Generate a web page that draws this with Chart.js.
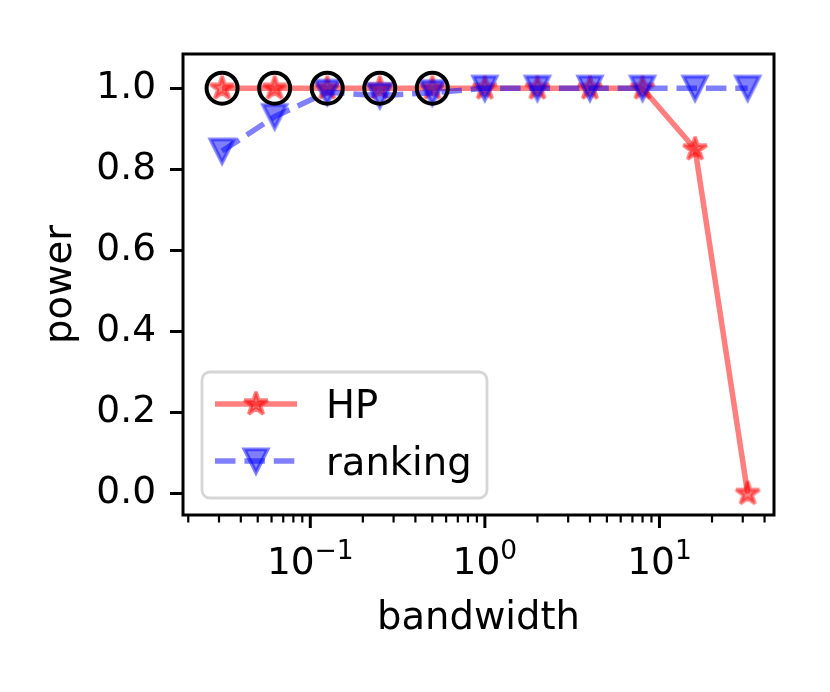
<!DOCTYPE html>
<html>
<head>
<meta charset="utf-8">
<script src="https://cdn.jsdelivr.net/npm/chart.js@4.4.1/dist/chart.umd.min.js"></script>
<style>
  body { margin: 0; background: #fff; }
</style>
</head>
<body>
<canvas id="powerChart" width="830" height="692"></canvas>
<script>
// data
const bandwidth = [0.03125, 0.0625, 0.125, 0.25, 0.5, 1, 2, 4, 8, 16, 32];
const hpPower = [1, 1, 1, 1, 1, 1, 1, 1, 1, 0.85, 0];
const rankingPower = [0.845, 0.93, 0.99, 0.982, 0.989, 1, 1, 1, 1, 1, 1];
const circledBandwidth = [0.03125, 0.0625, 0.125, 0.25, 0.5];
const circledPower = [1, 1, 1, 1, 1];

const yTicks = [0, 0.2, 0.4, 0.6, 0.8, 1.0];
const xMajorTicks = [0.1, 1, 10];
const xTickExponents = ['\u22121', '0', '1'];

const FONT = '"DejaVu Sans", sans-serif';

// minor log ticks 2..9 per decade
const xMinorTicks = [];
[0.01, 0.1, 1, 10].forEach(d => {
  for (let k = 2; k <= 9; k++) xMinorTicks.push(d * k);
});

function makeMarker(kind, rgb) {
  const c = document.createElement('canvas');
  c.width = 40; c.height = 40;
  const g = c.getContext('2d');
  const r = 12.3;
  g.translate(20, 20);
  g.beginPath();
  if (kind === 'star') {
    for (let i = 0; i < 10; i++) {
      const rr = i % 2 ? r * 0.381966 : r;
      const a = -Math.PI / 2 + i * Math.PI / 5;
      g.lineTo(rr * Math.cos(a), rr * Math.sin(a));
    }
    g.lineJoin = 'bevel';
  } else {
    g.moveTo(0, r * 0.95);
    g.lineTo(-r * 0.95, -r * 0.95);
    g.lineTo(r * 0.95, -r * 0.95);
    g.lineJoin = 'miter';
  }
  g.closePath();
  g.fillStyle = 'rgba(' + rgb + ',0.5)';
  g.fill();
  g.lineWidth = 3.7;
  g.strokeStyle = 'rgba(' + rgb + ',0.5)';
  g.stroke();
  return c;
}

const starImg = makeMarker('star', '255,0,0');
const triImg = makeMarker('tri', '0,0,255');

const toPoints = (xs, ys) => xs.map((x, i) => ({ x: x, y: ys[i] }));

const framePlugin = {
  id: 'frame',
  afterDatasetsDraw(chart) {
    const { ctx, chartArea: a } = chart;
    const xs = chart.scales.x;
    ctx.save();
    ctx.strokeStyle = '#000';
    // x ticks, major and minor
    xMinorTicks.forEach(v => {
      if (v < xs.min || v > xs.max) return;
      const px = xs.getPixelForValue(v);
      ctx.lineWidth = 2.2;
      ctx.beginPath();
      ctx.moveTo(px, a.bottom);
      ctx.lineTo(px, a.bottom + 7.5);
      ctx.stroke();
    });
    xMajorTicks.forEach(v => {
      const px = xs.getPixelForValue(v);
      ctx.lineWidth = 3;
      ctx.beginPath();
      ctx.moveTo(px, a.bottom);
      ctx.lineTo(px, a.bottom + 13);
      ctx.stroke();
    });
    ctx.lineWidth = 3;
    ctx.strokeRect(a.left, a.top, a.right - a.left, a.bottom - a.top);
    ctx.restore();
  },
  afterDraw(chart) {
    const { ctx } = chart;
    const xs = chart.scales.x;
    ctx.save();
    ctx.fillStyle = '#000';
    ctx.textAlign = 'left';
    ctx.textBaseline = 'alphabetic';
    // x tick labels as 10 with a raised exponent
    xMajorTicks.forEach((v, i) => {
      const px = xs.getPixelForValue(v);
      ctx.font = '37.5px ' + FONT;
      const w1 = ctx.measureText('10').width;
      ctx.font = '26.5px ' + FONT;
      const w2 = ctx.measureText(xTickExponents[i]).width;
      const x0 = px - (w1 + w2) / 2;
      ctx.font = '37.5px ' + FONT;
      ctx.fillText('10', x0, 574);
      ctx.font = '26.5px ' + FONT;
      ctx.fillText(xTickExponents[i], x0 + w1, 559);
    });

    // legend box
    const bx = 202, by = 372, bw = 285, bh = 126, rad = 8;
    ctx.beginPath();
    ctx.roundRect(bx, by, bw, bh, rad);
    ctx.fillStyle = 'rgba(255,255,255,0.8)';
    ctx.fill();
    ctx.lineWidth = 2.8;
    ctx.strokeStyle = '#d6d6d6';
    ctx.stroke();

    const rows = [
      { label: chart.data.datasets[2].label, y: 404, color: 'rgba(255,0,0,0.5)', dash: [], img: starImg, base: 418 },
      { label: chart.data.datasets[1].label, y: 461, color: 'rgba(0,0,255,0.5)', dash: [20.5, 8.9], img: triImg, base: 475 }
    ];
    rows.forEach(r => {
      ctx.save();
      ctx.strokeStyle = r.color;
      ctx.lineWidth = 5.5;
      ctx.setLineDash(r.dash);
      ctx.beginPath();
      ctx.moveTo(215, r.y);
      ctx.lineTo(297, r.y);
      ctx.stroke();
      ctx.restore();
      ctx.drawImage(r.img, 256 - r.img.width / 2, r.y - r.img.height / 2);
      ctx.fillStyle = '#000';
      ctx.font = '38.5px ' + FONT;
      ctx.fillText(r.label, 326, r.base);
    });
    ctx.restore();
  }
};

const config = {
  type: 'line',
  data: {
    datasets: [
      {
        label: 'circled',
        data: toPoints(circledBandwidth, circledPower),
        showLine: false,
        pointStyle: 'circle',
        pointRadius: 15.5,
        pointBorderWidth: 4,
        pointBorderColor: '#000',
        pointBackgroundColor: 'rgba(0,0,0,0)',
        order: 0
      },
      {
        label: 'ranking',
        data: toPoints(bandwidth, rankingPower),
        borderColor: 'rgba(0,0,255,0.5)',
        borderWidth: 5.5,
        borderDash: [20.5, 8.9],
        borderJoinStyle: 'round',
        pointStyle: triImg,
        pointRadius: 12,
        tension: 0,
        order: 1
      },
      {
        label: 'HP',
        data: toPoints(bandwidth, hpPower),
        borderColor: 'rgba(255,0,0,0.5)',
        borderWidth: 5.5,
        borderJoinStyle: 'round',
        pointStyle: starImg,
        pointRadius: 12,
        tension: 0,
        order: 2
      }
    ]
  },
  options: {
    responsive: false,
    animation: false,
    devicePixelRatio: 1,
    layout: { padding: { top: 54, right: 56, left: 0, bottom: 0 } },
    plugins: {
      legend: { display: false },
      tooltip: { enabled: false }
    },
    scales: {
      x: {
        type: 'logarithmic',
        min: 0.01866,
        max: 45.3,
        afterBuildTicks: s => { s.ticks = xMajorTicks.map(v => ({ value: v, major: true })); },
        afterFit: s => { s.height = 177; },
        grid: { display: false },
        border: { display: false },
        ticks: { display: false },
        title: {
          display: true,
          text: 'bandwidth',
          color: '#000',
          font: { family: FONT, size: 38.5 },
          padding: { bottom: 50 }
        }
      },
      y: {
        type: 'linear',
        min: -0.053,
        max: 1.0845,
        afterBuildTicks: s => { s.ticks = yTicks.map(v => ({ value: v })); },
        afterFit: s => { s.width = 183; },
        grid: { drawOnChartArea: false, tickLength: 13, tickWidth: 3, tickColor: '#000' },
        border: { display: false },
        ticks: {
          color: '#000',
          padding: 14,
          font: { family: FONT, size: 37.5 },
          callback: v => Number(v).toFixed(1)
        },
        title: {
          display: true,
          text: 'power',
          color: '#000',
          font: { family: FONT, size: 38.5 },
          padding: { top: 38 }
        }
      }
    }
  },
  plugins: [framePlugin]
};

new Chart(document.getElementById('powerChart').getContext('2d'), config);
</script>
</body>
</html>
